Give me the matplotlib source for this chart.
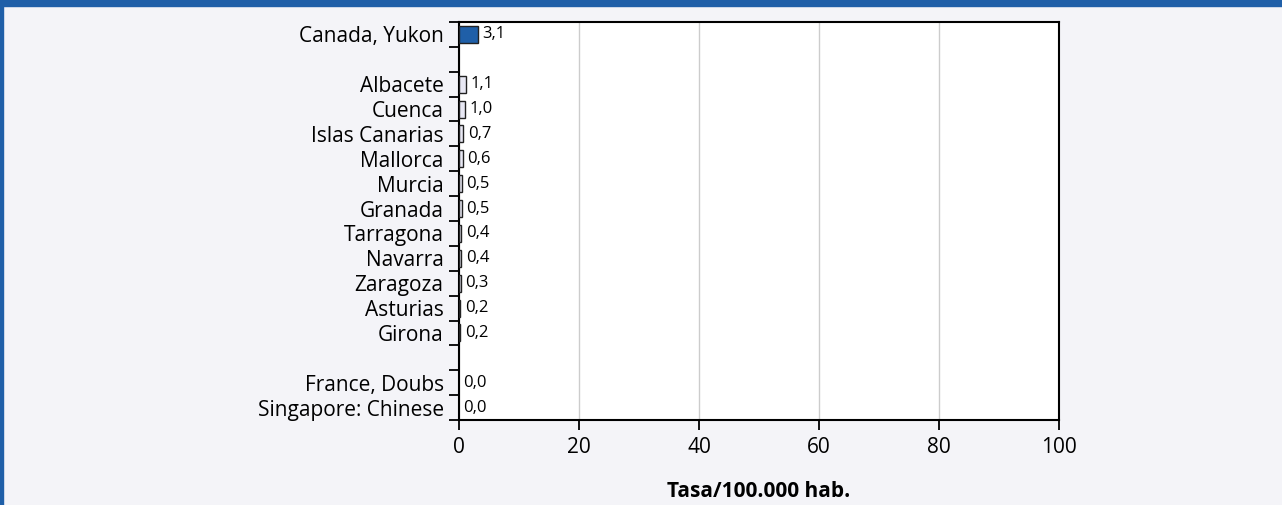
import numpy as np
import matplotlib.pyplot as plt

plt.rcParams['font.family'] = ['Open Sans', 'DejaVu Sans']

# datos
regiones = ['Canada, Yukon', '', 'Albacete', 'Cuenca', 'Islas Canarias', 'Mallorca',
            'Murcia', 'Granada', 'Tarragona', 'Navarra', 'Zaragoza', 'Asturias',
            'Girona', '', 'France, Doubs', 'Singapore: Chinese']
tasas = [3.1, None, 1.1, 1.0, 0.7, 0.6, 0.5, 0.5, 0.4, 0.4, 0.3, 0.2, 0.2, None, 0.0, 0.0]
destacado = 'Canada, Yukon'
xticks = [0, 20, 40, 60, 80, 100]

fig = plt.figure(figsize=(12.82, 5.05), dpi=100)
fig.patch.set_facecolor('#f4f4f8')

# marco azul (arriba e izquierda)
fig.patches.append(plt.Rectangle((0, 1 - 6 / 505), 1, 6 / 505, transform=fig.transFigure,
                                 color='#1f5fa8', zorder=0))
fig.patches.append(plt.Rectangle((0, 0), 3 / 1282, 1, transform=fig.transFigure,
                                 color='#1f5fa8', zorder=0))

ax = fig.add_axes([459 / 1282, 1 - 420 / 505, 600 / 1282, 398 / 505])
ax.set_facecolor('white')

y = np.arange(len(regiones))
for yi, nombre, v in zip(y, regiones, tasas):
    if v is None:
        continue
    color = '#1f5fa8' if nombre == destacado else '#e8e8f4'
    if v > 0:
        ax.barh(yi, v, height=0.68, color=color, edgecolor='#222222', linewidth=1, zorder=3)
    ax.text(v + 0.75, yi, f'{v:.1f}'.replace('.', ','), va='center', ha='left',
            fontsize=12, zorder=4)

ax.set_xlim(0, 100)
ax.set_ylim(len(regiones) - 0.5, -0.5)
ax.set_xticks(xticks)
ax.xaxis.grid(True, color='#cccccc', linewidth=1)
ax.set_axisbelow(True)
ax.tick_params(axis='x', length=7.5, width=1.3, labelsize=15, pad=5)

ax.set_yticks(y)
ax.set_yticklabels(regiones)
ax.tick_params(axis='y', which='major', length=0, labelsize=15, pad=11)
ax.set_yticks(np.arange(-0.5, len(regiones) + 0.5, 1), minor=True)
ax.tick_params(axis='y', which='minor', length=7.5, width=1.3)

for s in ax.spines.values():
    s.set_linewidth(1.5)
    s.set_color('black')

ax.set_xlabel('Tasa/100.000 hab.', fontsize=15, fontweight='bold', labelpad=16)

fig.savefig('out.png', dpi=100, facecolor=fig.get_facecolor())
